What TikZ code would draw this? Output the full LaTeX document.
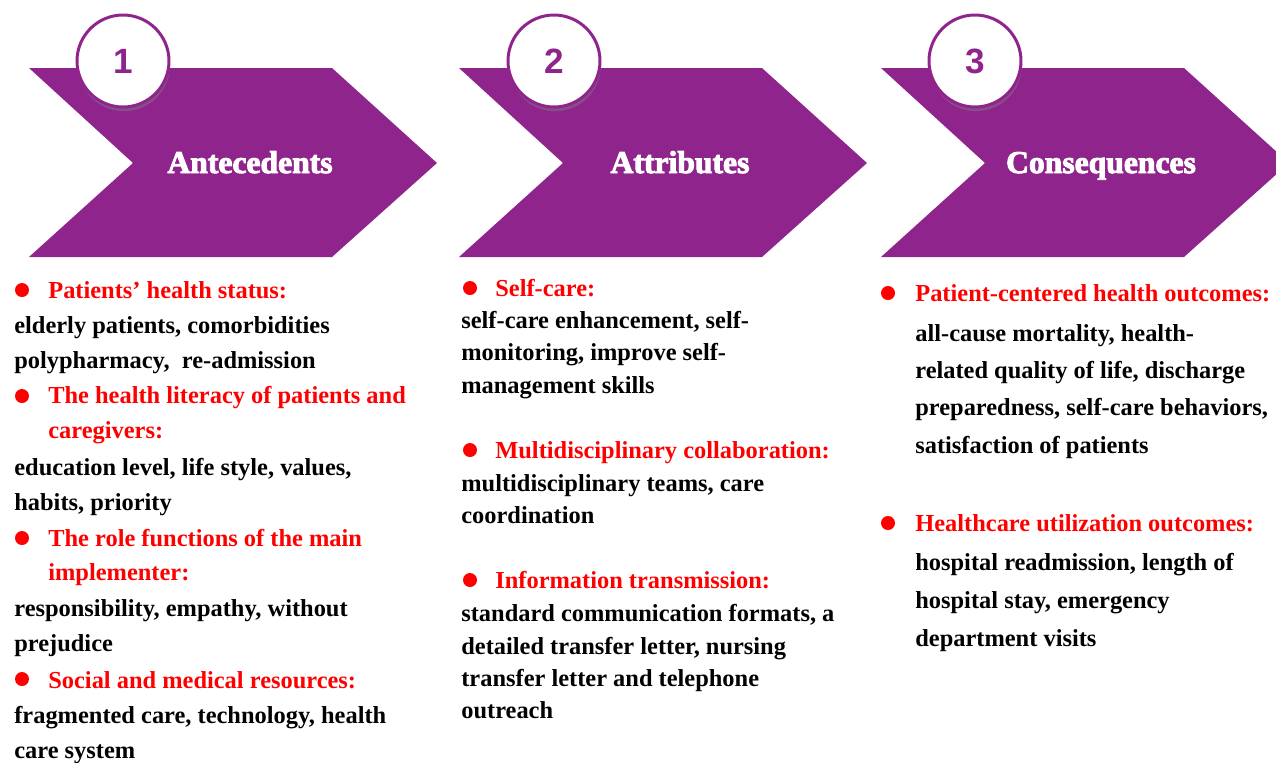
\documentclass[tikz,border=0pt]{standalone}
\usepackage{fontspec}
\setmainfont{Liberation Serif}
\setsansfont{Liberation Sans}
\newfontfamily\titlefont{Liberation Serif Bold}[FakeBold=3]
\usetikzlibrary{shadows}
\definecolor{chevpurple}{RGB}{143,36,140}
\definecolor{headred}{RGB}{255,0,0}

\begin{document}
\begin{tikzpicture}[x=0.02cm,y=-0.02cm,
    chev/.style={fill=chevpurple},
    numcircle/.style={circle,draw=chevpurple,line width=1.7pt,fill=white,minimum size=1.84cm,inner sep=0pt,
      text=chevpurple,font=\sffamily\bfseries\fontsize{20}{20}\selectfont,
      drop shadow={opacity=0.45,shadow xshift=0.6pt,shadow yshift=-2.4pt}},
    chevtitle/.style={anchor=base,text=white,inner sep=0pt,font=\titlefont\fontsize{18}{18}\selectfont},
    reddot/.style={circle,fill=headred,inner sep=0pt,minimum size=0.28cm},
    headline/.style={anchor=base west,inner sep=0pt,text=headred,font=\bfseries\fontsize{13.9}{16}\selectfont},
    bodyline/.style={anchor=base west,inner sep=0pt,text=black,font=\bfseries\fontsize{13.9}{16}\selectfont}]
    \clip (0,0) rectangle (1276,762);

    % chevrons
    \fill[chev] (29,68) -- (332,68) -- (437,163) -- (332,257) -- (29,257) -- (133,163) -- cycle;
    \fill[chev] (459,68) -- (762,68) -- (867,163) -- (762,257) -- (459,257) -- (563,163) -- cycle;
    \fill[chev] (881,68) -- (1184,68) -- (1289,163) -- (1184,257) -- (881,257) -- (985,163) -- cycle;

    \node[numcircle] (n1) at (123,61) {1};
    \node[numcircle] (n2) at (554,61) {2};
    \node[numcircle] (n3) at (975,61) {3};

    \node[chevtitle] (t1) at (250,173) {Antecedents};
    \node[chevtitle] (t2) at (680,173) {Attributes};
    \node[chevtitle] (t3) at (1101,173) {Consequences};

    % antecedents
    \node[reddot] (d11) at (22,290) {};
    \node[headline] (a1) at (48,298) {Patients’ health status:};
    \node[bodyline] (a2) at (14,333) {elderly patients, comorbidities};
    \node[bodyline] (a3) at (14,368) {polypharmacy,\ \ re-admission};
    \node[reddot] (d12) at (22,396) {};
    \node[headline] (a4) at (48,403) {The health literacy of patients and};
    \node[headline] (a5) at (48,438) {caregivers:};
    \node[bodyline] (a6) at (14,475) {education level, life style, values,};
    \node[bodyline] (a7) at (14,510) {habits, priority};
    \node[reddot] (d13) at (22,538) {};
    \node[headline] (a8) at (48,546) {The role functions of the main};
    \node[headline] (a9) at (48,580) {implementer:};
    \node[bodyline] (a10) at (14,616) {responsibility, empathy, without};
    \node[bodyline] (a11) at (14,651) {prejudice};
    \node[reddot] (d14) at (22,679) {};
    \node[headline] (a12) at (48,688) {Social and medical resources:};
    \node[bodyline] (a13) at (14,723) {fragmented care, technology, health};
    \node[bodyline] (a14) at (14,758) {care system};

    % attributes
    \node[reddot] (d21) at (470,288) {};
    \node[headline] (b1) at (495,296) {Self-care:};
    \node[bodyline] (b2) at (461,328) {self-care enhancement, self-};
    \node[bodyline] (b3) at (461,360) {monitoring, improve self-};
    \node[bodyline] (b4) at (461,393) {management skills};
    \node[reddot] (d22) at (470,450) {};
    \node[headline] (b5) at (495,458) {Multidisciplinary collaboration:};
    \node[bodyline] (b6) at (461,491) {multidisciplinary teams, care};
    \node[bodyline] (b7) at (461,523) {coordination};
    \node[reddot] (d23) at (470,580) {};
    \node[headline] (b8) at (495,588) {Information transmission:};
    \node[bodyline] (b9) at (461,621) {standard communication formats, a};
    \node[bodyline] (b10) at (461,654) {detailed transfer letter, nursing};
    \node[bodyline] (b11) at (461,686) {transfer letter and telephone};
    \node[bodyline] (b12) at (461,718) {outreach};

    % consequences
    \node[reddot] (d31) at (888,293) {};
    \node[headline] (c1) at (915,301) {Patient-centered health outcomes:};
    \node[bodyline] (c2) at (915,341) {all-cause mortality, health-};
    \node[bodyline] (c3) at (915,378) {related quality of life, discharge};
    \node[bodyline] (c4) at (915,415) {preparedness, self-care behaviors,};
    \node[bodyline] (c5) at (915,453) {satisfaction of patients};
    \node[reddot] (d32) at (888,523) {};
    \node[headline] (c6) at (915,531) {Healthcare utilization outcomes:};
    \node[bodyline] (c7) at (915,570) {hospital readmission, length of};
    \node[bodyline] (c8) at (915,608) {hospital stay, emergency};
    \node[bodyline] (c9) at (915,646) {department visits};
\end{tikzpicture}
\end{document}
